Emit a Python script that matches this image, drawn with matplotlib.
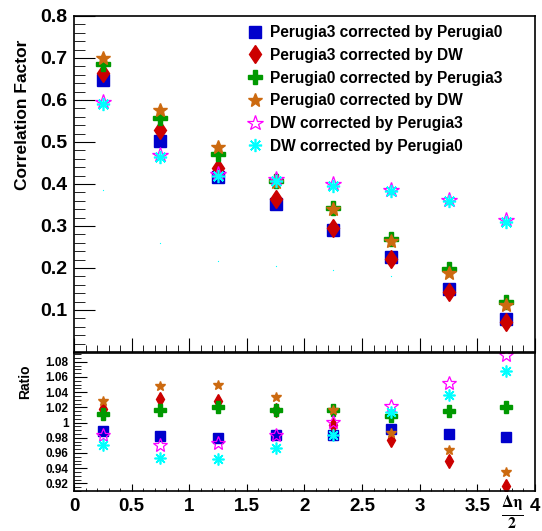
import numpy as np
from matplotlib import pyplot as plt
from matplotlib.ticker import MultipleLocator, FixedLocator

plt.rcParams['font.family'] = ['Liberation Sans', 'DejaVu Sans']
plt.rcParams['font.weight'] = 'bold'
plt.rcParams['mathtext.fontset'] = 'stix'

# Bin centres in delta eta / 2.
eta_bins = [0.25, 0.75, 1.25, 1.75, 2.25, 2.75, 3.25, 3.75]

labels = [
    'Perugia3 corrected by Perugia0',
    'Perugia3 corrected by DW',
    'Perugia0 corrected by Perugia3',
    'Perugia0 corrected by DW',
    'DW corrected by Perugia3',
    'DW corrected by Perugia0',
]

# Correlation factor, one list per series.
p3_by_p0 = [0.647, 0.503, 0.416, 0.352, 0.290, 0.225, 0.150, 0.078]
p3_by_dw = [0.665, 0.528, 0.438, 0.364, 0.296, 0.221, 0.144, 0.072]
p0_by_p3 = [0.686, 0.558, 0.471, 0.406, 0.342, 0.269, 0.197, 0.120]
p0_by_dw = [0.701, 0.576, 0.489, 0.405, 0.341, 0.264, 0.187, 0.111]
dw_by_p3 = [0.596, 0.469, 0.423, 0.412, 0.400, 0.386, 0.362, 0.314]
dw_by_p0 = [0.590, 0.464, 0.418, 0.408, 0.396, 0.383, 0.360, 0.310]
# Stray faint points in the upper pad.
stray_bins = [0.25, 0.75, 1.25, 1.75, 2.25, 2.75]
stray_vals = [0.386, 0.260, 0.217, 0.204, 0.195, 0.181]

# Ratios in the lower pad.
r_p3_by_p0 = [0.989, 0.9825, 0.980, 0.983, 0.984, 0.992, 0.9847, 0.9808]
r_p3_by_dw = [1.018, 1.031, 1.029, 1.017, 0.997, 0.9776, 0.950, 0.917]
r_p0_by_p3 = [1.0115, 1.017, 1.020, 1.017, 1.017, 1.008, 1.015, 1.020]
r_p0_by_dw = [1.029, 1.0487, 1.0496, 1.034, 1.017, 0.986, 0.9645, 0.9355]
r_dw_by_p3 = [0.984, 0.970, 0.973, 0.984, 1.0013, 1.022, 1.052, 1.089]
r_dw_by_p0 = [0.971, 0.953, 0.952, 0.9663, 0.984, 1.0145, 1.0365, 1.0684]

upper = [p3_by_p0, p3_by_dw, p0_by_p3, p0_by_dw, dw_by_p3, dw_by_p0]
lower = [r_p3_by_p0, r_p3_by_dw, r_p0_by_p3, r_p0_by_dw, r_dw_by_p3, r_dw_by_p0]

styles = [
    dict(marker='s', color='#0000cc', ms=8.3),
    dict(marker='d', color='#cc0000', ms=9.5),
    dict(marker='P', color='#009900', ms=9.5),
    dict(marker='*', color='#cc6a10', ms=10.5),
    dict(marker='*', color='#ff00ff', ms=11.5, mfc='none', mew=0.9),
    dict(marker=(8, 2, 0), color='#00ffff', ms=9.5, mew=1.2),
]
lower_scale = [0.9, 0.75, 0.9, 0.75, 0.9, 0.9]

fig = plt.figure(figsize=(5.42, 5.31), dpi=100)
ax1 = fig.add_axes([0.1365, 0.3371, 0.8505, 0.6328])
ax2 = fig.add_axes([0.1365, 0.0753, 0.8505, 0.2599])

for values, label, st in zip(upper, labels, styles):
    ax1.plot(eta_bins, values, ls='none', label=label, **st)
ax1.plot(stray_bins, stray_vals, ls='none', marker='s', ms=0.8, color='#00ffff', mew=0)

for values, st, k in zip(lower, styles, lower_scale):
    st = dict(st)
    st['ms'] = st['ms'] * k
    ax2.plot(eta_bins, values, ls='none', **st)

ax1.set_xlim(0, 4)
ax1.set_ylim(0, 0.8)
ax2.set_xlim(0, 4)
ax2.set_ylim(0.9099, 1.0915)

for ax in (ax1, ax2):
    ax.xaxis.set_major_locator(MultipleLocator(0.5))
    ax.xaxis.set_minor_locator(MultipleLocator(0.1))
    ax.tick_params(which='both', direction='in', top=False, right=False)
    for side in ax.spines:
        ax.spines[side].set_linewidth(1.2)

ax1.yaxis.set_major_locator(FixedLocator([0.1, 0.2, 0.3, 0.4, 0.5, 0.6, 0.7, 0.8]))
ax1.yaxis.set_minor_locator(MultipleLocator(0.02))
ax1.tick_params(axis='x', which='major', length=10, labelbottom=False)
ax1.tick_params(axis='x', which='minor', length=5)
ax1.tick_params(axis='y', which='major', length=15, labelsize=14, pad=5)
ax1.tick_params(axis='y', which='minor', length=8)
ax1.set_yticklabels(['0.1', '0.2', '0.3', '0.4', '0.5', '0.6', '0.7', '0.8'])

ax2.yaxis.set_major_locator(MultipleLocator(0.02))
ax2.yaxis.set_minor_locator(MultipleLocator(0.005))
ax2.tick_params(axis='x', which='major', length=5, labelsize=13.5, pad=5)
ax2.tick_params(axis='x', which='minor', length=2.5)
ax2.tick_params(axis='y', which='major', length=9, labelsize=8.5, pad=4)
ax2.tick_params(axis='y', which='minor', length=5)
ax2.set_xticks(np.arange(0, 4.01, 0.5))
ax2.set_xticklabels(['0', '0.5', '1', '1.5', '2', '2.5', '3', '3.5', '4'])
ax2.set_yticks([0.92, 0.94, 0.96, 0.98, 1.0, 1.02, 1.04, 1.06, 1.08])
ax2.set_yticklabels(['0.92', '0.94', '0.96', '0.98', '1', '1.02', '1.04', '1.06', '1.08'])

fig.text(0.041, 0.783, 'Correlation Factor', rotation=90, ha='center', va='center',
         fontsize=12.5, fontweight='bold')
fig.text(0.047, 0.282, 'Ratio', rotation=90, ha='center', va='center',
         fontsize=10, fontweight='bold')
fig.text(0.945, 0.034, r'$\frac{\Delta\mathrm{\eta}}{2}$', ha='center', va='center',
         fontsize=16.5)

ax1.legend(loc='upper left', bbox_to_anchor=(0.3757, 0.973), frameon=False,
           prop=dict(size=11.2, weight='bold'), handlelength=1.0, handletextpad=0.45,
           borderpad=0, borderaxespad=0, labelspacing=0.5, numpoints=1)

fig.savefig('out.png', dpi=100)
